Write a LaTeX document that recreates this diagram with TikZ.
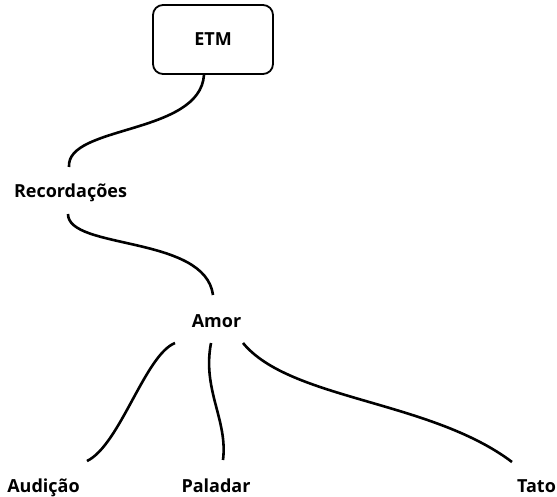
\documentclass[tikz,border=0pt]{standalone}
\usepackage{fontspec}
\setmainfont{Open Sans}
\begin{document}
\begin{tikzpicture}[x=1pt,y=-1pt,
  lbl/.style={font=\bfseries\fontsize{18}{21}\selectfont, inner sep=0pt, anchor=base},
  box/.style={draw, line width=1.8pt, rounded corners=10pt, minimum width=120pt, minimum height=69pt, inner sep=0pt, font=\bfseries\fontsize{18}{21}\selectfont},
  link/.style={line width=2.6pt}]
\useasboundingbox (0,0) rectangle (557,497);
\node[box] (etm) at (213,39.5) {ETM};
\node[lbl] (rec) at (70.5,198) {Recordações};
\node[lbl] (amor) at (216.5,327) {Amor};
\node[lbl] (aud) at (43.5,492) {Audição};
\node[lbl] (pal) at (216,492) {Paladar};
\node[lbl] (tato) at (536.5,492) {Tato};
\draw[link] ([xshift=-9pt]etm.south) .. controls (200,135) and (66,125) .. ([shift={(-1.5,-31)}]rec.base);
\draw[link] ([shift={(-2.5,16)}]rec.base) .. controls (68,250) and (205,235) .. ([shift={(-3.5,-32)}]amor.base);
\draw[link] ([shift={(-41.5,16)}]amor.base) .. controls (145,355) and (120,445) .. ([shift={(43.5,-31)}]aud.base);
\draw[link] ([shift={(-5.5,16)}]amor.base) .. controls (202,390) and (228,420) .. ([shift={(7,-32)}]pal.base);
\draw[link] ([shift={(26.5,16)}]amor.base) .. controls (290,400) and (430,400) .. ([shift={(-24.5,-30)}]tato.base);
\end{tikzpicture}
\end{document}
